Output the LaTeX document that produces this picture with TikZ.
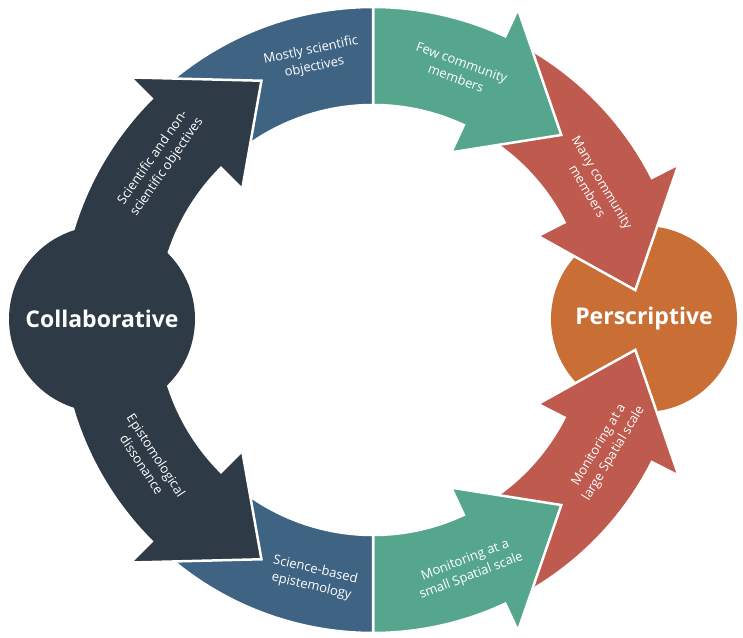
\documentclass[tikz,border=0pt]{standalone}
\usepackage{fontspec}
\setmainfont{Open Sans}
\definecolor{cdark}{HTML}{2E3A46}
\definecolor{cblue}{HTML}{3F6383}
\definecolor{cteal}{HTML}{56A68E}
\definecolor{cred}{HTML}{BF5A4E}
\definecolor{corange}{HTML}{C96F36}
\def\Ro{313}
\def\Ri{215}
\def\Rm{264}
\def\Bb{30}
% ring arrow: colour, start angle, head base angle, tip angle
\newcommand\ringarrow[4]{%
  \fill[#1, draw=white, line width=2.5pt, line join=miter]
    ({#2}:{\Ro}) arc[start angle={#2}, end angle={#3}, radius={\Ro}]
    -- ({#3}:{\Ro+\Bb}) -- ({#4}:{\Rm}) -- ({#3}:{\Ri-\Bb})
    -- ({#3}:{\Ri}) arc[start angle={#3}, end angle={#2}, radius={\Ri}]
    -- cycle;}
\newcommand\ringband[3]{%
  \fill[#1, draw=white, line width=2.5pt, line join=miter]
    ({#2}:{\Ro}) arc[start angle={#2}, end angle={#3}, radius={\Ro}]
    -- ({#3}:{\Ri}) arc[start angle={#3}, end angle={#2}, radius={\Ri}]
    -- cycle;}
\tikzset{
  lbl/.style={text=white, align=center, inner sep=1pt, font=\fontsize{13}{17}\selectfont},
  big/.style={text=white, font=\fontsize{23}{27}\selectfont\bfseries}
}
\begin{document}
\begin{tikzpicture}[x=1pt,y=1pt]
\useasboundingbox (0,0) rectangle (743,637);
\begin{scope}[shift={(373,317)}]
  % orange circle
  \fill[corange] (271,1) circle[radius=93];
  % red arrows
  \ringarrow{cred}{60}{27}{6.5}
  \ringarrow{cred}{-60}{-27}{-6.5}
  % teal arrows
  \ringarrow{cteal}{90}{65}{44.5}
  \ringarrow{cteal}{-90}{-65}{-44.5}
  % blue bands
  \ringband{cblue}{130}{90}
  \ringband{cblue}{-130}{-90}
  % dark arrows
  \ringarrow{cdark}{180}{135}{115}
  \ringarrow{cdark}{-180}{-135}{-115}
  \fill[cdark] (-271,1) circle[radius=93];
  % labels
  \node[big] (collab) at (-271,1) {Collaborative};
  \node[big] (persc) at (271,1) {Perscriptive};
  \node[lbl, rotate=12] (mostly) at (103:268) {Mostly scientific\\objectives};
  \node[lbl, rotate=-20] (few) at (71:264) {Few community\\members};
  \node[lbl, rotate=-59] (many) at (31:259) {Many community\\members};
  \node[lbl, rotate=55] (scinon) at (143.5:265) {Scientific and non-\\scientific objectives};
  \node[lbl, rotate=-57] (episd) at (212:264) {Epistomological\\dissonance};
  \node[lbl, rotate=-13] (sciep) at (-103:265) {Science-based\\epistemology};
  \node[lbl, rotate=21] (small) at (-69:266) {Monitoring at a\\small Spatial scale};
  \node[lbl, rotate=59] (large) at (-29:267) {Monitoring at a\\large Spatial scale};
\end{scope}
\end{tikzpicture}
\end{document}
